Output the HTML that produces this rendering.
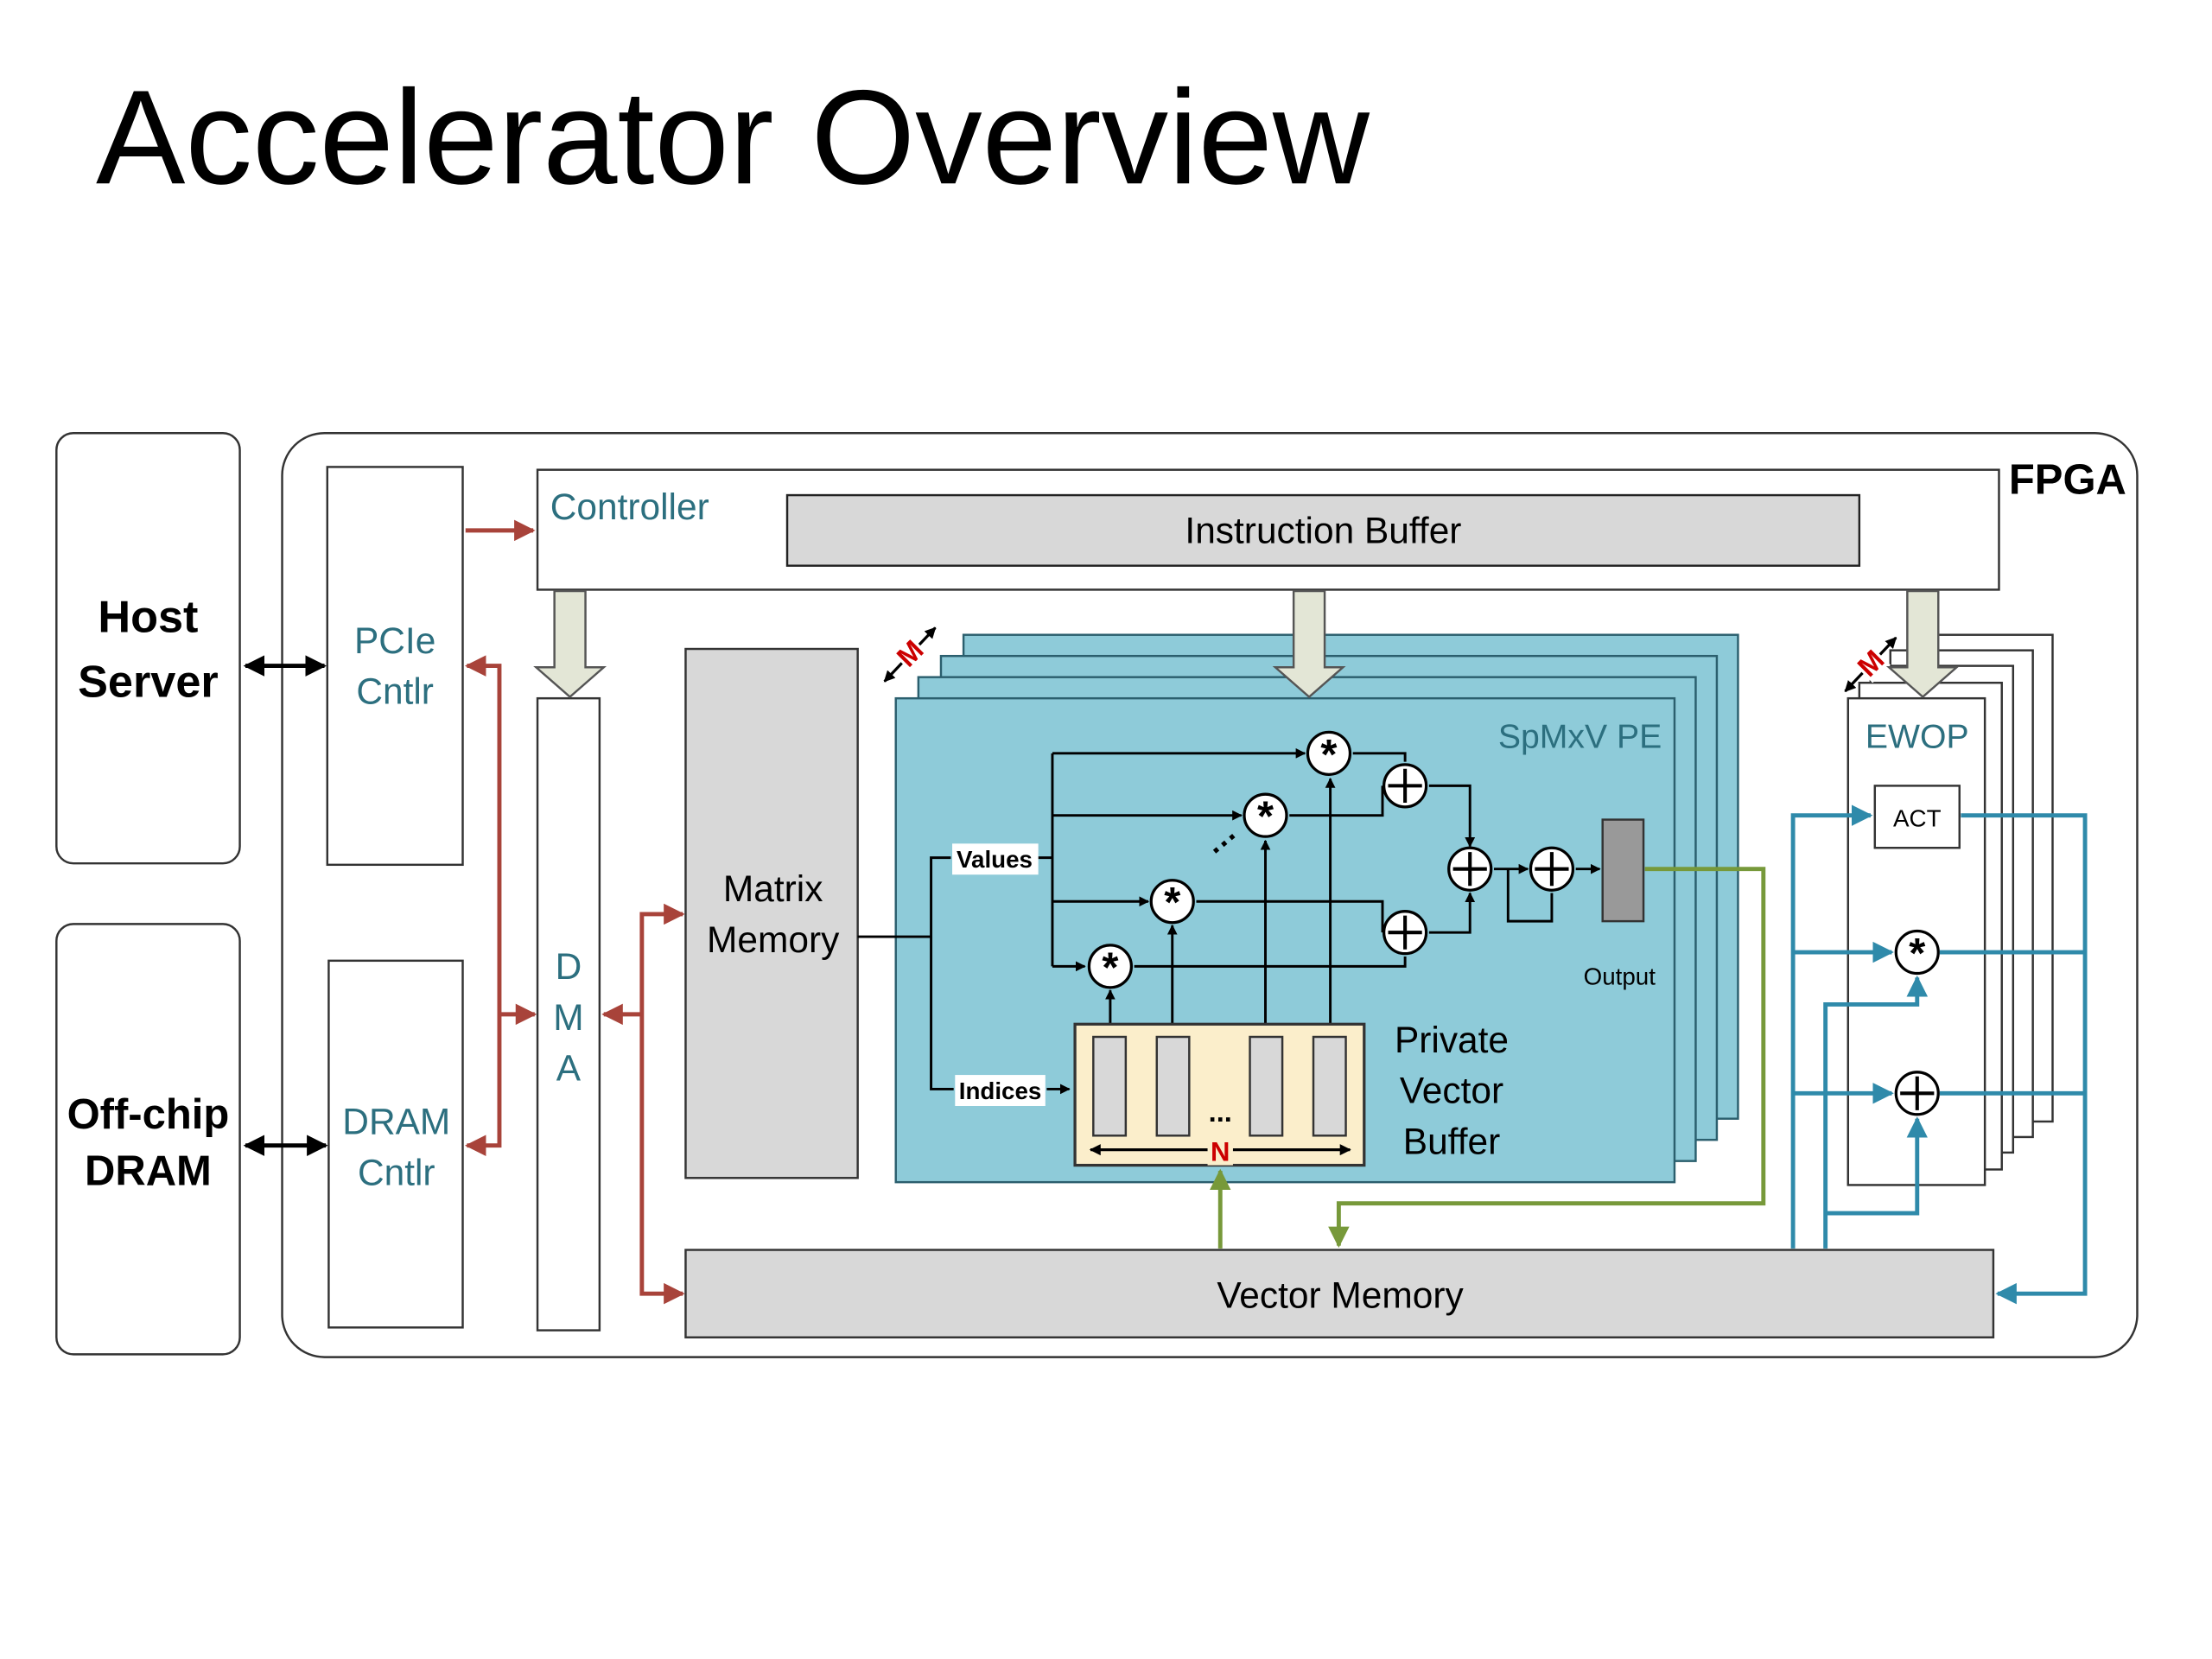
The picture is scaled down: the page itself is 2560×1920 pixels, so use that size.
<!DOCTYPE html>
<html><head><meta charset="utf-8"><style>
html,body{margin:0;padding:0;background:#fff;}
svg{display:block;}
text{font-family:"Liberation Sans","DejaVu Sans",sans-serif;}
</style></head><body>
<svg width="2560" height="1920" viewBox="0 0 1568 1176" xmlns="http://www.w3.org/2000/svg">
<defs>
<marker id="ak" viewBox="0 0 10 10" refX="9" refY="5" markerWidth="5" markerHeight="5" orient="auto-start-reverse"><path d="M0,0L10,5L0,10z" fill="#000"/></marker>
<marker id="ar" viewBox="0 0 10 10" refX="9" refY="5" markerWidth="5" markerHeight="5" orient="auto-start-reverse"><path d="M0,0L10,5L0,10z" fill="#a8433a"/></marker>
<marker id="ab" viewBox="0 0 10 10" refX="9" refY="5" markerWidth="5" markerHeight="5" orient="auto-start-reverse"><path d="M0,0L10,5L0,10z" fill="#2f8aaa"/></marker>
<marker id="ag" viewBox="0 0 10 10" refX="9" refY="5" markerWidth="5" markerHeight="5" orient="auto-start-reverse"><path d="M0,0L10,5L0,10z" fill="#77993a"/></marker>
<marker id="as" viewBox="0 0 10 10" refX="9" refY="5" markerWidth="4" markerHeight="4" orient="auto-start-reverse"><path d="M0,0L10,5L0,10z" fill="#000"/></marker>
</defs>
<text x="68" y="130" font-size="95" fill="#000">Accelerator Overview</text>

<rect x="40" y="307" width="130" height="305" rx="12" fill="#fff" stroke="#333" stroke-width="1.5"/>
<text x="105" y="448" font-size="32" font-weight="bold" text-anchor="middle">Host</text>
<text x="105" y="494" font-size="32" font-weight="bold" text-anchor="middle">Server</text>
<rect x="40" y="655" width="130" height="305" rx="12" fill="#fff" stroke="#333" stroke-width="1.5"/>
<text x="105" y="800" font-size="30" font-weight="bold" text-anchor="middle">Off-chip</text>
<text x="105" y="840" font-size="30" font-weight="bold" text-anchor="middle">DRAM</text>

<rect x="200" y="307" width="1315" height="655" rx="30" fill="#fff" stroke="#333" stroke-width="1.5"/>
<text x="1424" y="350" font-size="30" font-weight="bold">FPGA</text>

<rect x="232" y="331" width="96" height="282" fill="#fff" stroke="#333" stroke-width="1.5"/>
<text x="280" y="463" font-size="26" fill="#2c6f7f" text-anchor="middle">PCIe</text>
<text x="280" y="499" font-size="26" fill="#2c6f7f" text-anchor="middle">Cntlr</text>
<rect x="233" y="681" width="95" height="260" fill="#fff" stroke="#333" stroke-width="1.5"/>
<text x="281" y="804" font-size="26" fill="#2c6f7f" text-anchor="middle">DRAM</text>
<text x="281" y="840" font-size="26" fill="#2c6f7f" text-anchor="middle">Cntlr</text>

<line x1="174" y1="472" x2="230" y2="472" stroke="#000" stroke-width="3" marker-start="url(#ak)" marker-end="url(#ak)"/>
<line x1="174" y1="812" x2="231" y2="812" stroke="#000" stroke-width="3" marker-start="url(#ak)" marker-end="url(#ak)"/>

<rect x="381" y="333" width="1036" height="85" fill="#fff" stroke="#333" stroke-width="1.5"/>
<text x="390" y="368" font-size="26" fill="#2c6f7f">Controller</text>
<rect x="558" y="351" width="760" height="50" fill="#d8d8d8" stroke="#222" stroke-width="1.5"/>
<text x="938" y="385" font-size="26" text-anchor="middle">Instruction Buffer</text>

<line x1="330" y1="376" x2="378" y2="376" stroke="#a8433a" stroke-width="3" marker-end="url(#ar)"/>
<polyline points="331,472 354,472 354,812 331,812" fill="none" stroke="#a8433a" stroke-width="3" marker-start="url(#ar)" marker-end="url(#ar)"/>
<line x1="354" y1="719" x2="379" y2="719" stroke="#a8433a" stroke-width="3" marker-end="url(#ar)"/>
<line x1="455" y1="719" x2="428" y2="719" stroke="#a8433a" stroke-width="3" marker-end="url(#ar)"/>
<polyline points="484,648 455,648 455,917 484,917" fill="none" stroke="#a8433a" stroke-width="3" marker-start="url(#ar)" marker-end="url(#ar)"/>

<rect x="381" y="495" width="44" height="448" fill="#fff" stroke="#333" stroke-width="1.5"/>
<text x="403" y="694" font-size="26" fill="#2c6f7f" text-anchor="middle">D</text>
<text x="403" y="730" font-size="26" fill="#2c6f7f" text-anchor="middle">M</text>
<text x="403" y="766" font-size="26" fill="#2c6f7f" text-anchor="middle">A</text>

<rect x="486" y="460" width="122" height="375" fill="#d8d8d8" stroke="#333" stroke-width="1.5"/>
<text x="548" y="639" font-size="26" text-anchor="middle">Matrix</text>
<text x="548" y="675" font-size="26" text-anchor="middle">Memory</text>

<line x1="627" y1="483" x2="663" y2="445" stroke="#000" stroke-width="2" marker-start="url(#as)" marker-end="url(#as)"/>
<rect x="636" y="452" width="18" height="22" fill="#fff" transform="rotate(-45 645 463)"/>
<text x="645" y="470" font-size="20" font-weight="bold" fill="#c00" text-anchor="middle" transform="rotate(-45 645 463)">M</text>

<g fill="#8ecbd9" stroke="#2b5f6e" stroke-width="1.5">
<rect x="683" y="450" width="549" height="343"/>
<rect x="667" y="465" width="550" height="343"/>
<rect x="651" y="480" width="551" height="343"/>
<rect x="635" y="495" width="552" height="343"/>
</g>
<text x="1178" y="530" font-size="24" fill="#2c6f7f" text-anchor="end">SpMxV PE</text>

<g fill="#fff" stroke="#333" stroke-width="1.5">
<rect x="1354" y="450" width="101" height="345"/>
<rect x="1340" y="461" width="101" height="345"/>
<rect x="1326" y="472" width="101" height="345"/>
<rect x="1318" y="484" width="101" height="345"/>
<rect x="1310" y="495" width="97" height="345"/>
</g>
<line x1="1308" y1="490" x2="1344" y2="452" stroke="#000" stroke-width="2" marker-start="url(#as)" marker-end="url(#as)"/>
<rect x="1317" y="459" width="18" height="22" fill="#fff" transform="rotate(-45 1326 470)"/>
<text x="1326" y="477" font-size="20" font-weight="bold" fill="#c00" text-anchor="middle" transform="rotate(-45 1326 470)">M</text>
<text x="1359" y="530" font-size="24" fill="#2c6f7f" text-anchor="middle">EWOP</text>
<rect x="1329" y="557" width="60" height="44" fill="#fff" stroke="#333" stroke-width="1.5"/>
<text x="1359" y="586" font-size="17" text-anchor="middle">ACT</text>

<g fill="#e3e6d6" stroke="#555" stroke-width="1.5">
<path d="M393,419 H415 V473 H428 L404,494 L380,473 H393 Z"/>
<path d="M917,419 H939 V473 H952 L928,494 L904,473 H917 Z"/>
<path d="M1352,419 H1374 V473 H1387 L1363,494 L1339,473 H1352 Z"/>
</g>

<g stroke="#000" stroke-width="1.8" fill="none">
<polyline points="608,664 660,664 660,608 674,608"/>
<polyline points="660,664 660,772 676,772"/>
<line x1="736" y1="608" x2="746" y2="608"/>
<line x1="746" y1="534" x2="746" y2="685"/>
<line x1="746" y1="534" x2="925" y2="534" marker-end="url(#as)"/>
<line x1="746" y1="578" x2="880" y2="578" marker-end="url(#as)"/>
<line x1="746" y1="639" x2="814" y2="639" marker-end="url(#as)"/>
<line x1="746" y1="685" x2="769" y2="685" marker-end="url(#as)"/>
<line x1="742" y1="772" x2="758" y2="772" marker-end="url(#as)"/>
<line x1="787" y1="733" x2="787" y2="702" marker-end="url(#as)"/>
<line x1="831" y1="733" x2="831" y2="656" marker-end="url(#as)"/>
<line x1="897" y1="733" x2="897" y2="596" marker-end="url(#as)"/>
<line x1="943" y1="733" x2="943" y2="552" marker-end="url(#as)"/>
<polyline points="959,534 996,534 996,540"/>
<polyline points="914,578 980,578 980,557"/>
<polyline points="848,639 980,639 980,661"/>
<polyline points="804,685 996,685 996,678"/>
<polyline points="1013,557 1042,557 1042,600" marker-end="url(#as)"/>
<polyline points="1013,661 1042,661 1042,633" marker-end="url(#as)"/>
<line x1="1059" y1="616" x2="1083" y2="616" marker-end="url(#as)"/>
<polyline points="1100,633 1100,653 1069,653 1069,616"/>
<line x1="1117" y1="616" x2="1134" y2="616" marker-end="url(#as)"/>
</g>
<text x="860" y="612" font-size="22" font-weight="bold" transform="rotate(-40 860 605)">···</text>
<g fill="#fff" stroke="#000" stroke-width="2">
<circle cx="942" cy="534" r="15"/><circle cx="897" cy="578" r="15"/><circle cx="831" cy="639" r="15"/><circle cx="787" cy="685" r="15"/>
<circle cx="996" cy="557" r="15"/><circle cx="996" cy="661" r="15"/><circle cx="1042" cy="616" r="15"/><circle cx="1100" cy="616" r="15"/>
<circle cx="1359" cy="675" r="15"/><circle cx="1359" cy="775" r="15"/>
</g>
<g font-size="30" font-weight="bold" text-anchor="middle">
<text x="942" y="545">*</text><text x="897" y="589">*</text><text x="831" y="650">*</text><text x="787" y="696">*</text><text x="1359" y="686">*</text>
</g>
<g stroke="#000" stroke-width="2.5">
<path d="M996,545V569M984,557H1008"/><path d="M996,649V673M984,661H1008"/><path d="M1042,604V628M1030,616H1054"/><path d="M1100,604V628M1088,616H1112"/><path d="M1359,763V787M1347,775H1371"/>
</g>
<rect x="675" y="598" width="61" height="22" fill="#fff"/>
<text x="705" y="615" font-size="17" font-weight="bold" text-anchor="middle">Values</text>
<rect x="677" y="762" width="64" height="22" fill="#fff"/>
<text x="709" y="779" font-size="17" font-weight="bold" text-anchor="middle">Indices</text>

<rect x="1136" y="581" width="29" height="72" fill="#999" stroke="#333" stroke-width="1.5"/>
<text x="1148" y="698" font-size="17" text-anchor="middle">Output</text>

<rect x="762" y="726" width="205" height="100" fill="#fbeecb" stroke="#333" stroke-width="2"/>
<g fill="#d8d8d8" stroke="#333" stroke-width="1.5">
<rect x="775" y="735" width="23" height="70"/><rect x="820" y="735" width="23" height="70"/><rect x="886" y="735" width="23" height="70"/><rect x="931" y="735" width="23" height="70"/>
</g>
<text x="865" y="795" font-size="20" font-weight="bold" text-anchor="middle">...</text>
<line x1="773" y1="815" x2="957" y2="815" stroke="#000" stroke-width="2" marker-start="url(#as)" marker-end="url(#as)"/>
<rect x="856" y="806" width="18" height="20" fill="#fbeecb"/>
<text x="865" y="823" font-size="19" font-weight="bold" fill="#c00" text-anchor="middle">N</text>
<text x="1029" y="746" font-size="26" text-anchor="middle">Private</text>
<text x="1029" y="782" font-size="26" text-anchor="middle">Vector</text>
<text x="1029" y="818" font-size="26" text-anchor="middle">Buffer</text>

<rect x="486" y="886" width="927" height="62" fill="#d8d8d8" stroke="#333" stroke-width="1.5"/>
<text x="950" y="927" font-size="26" text-anchor="middle">Vector Memory</text>

<line x1="865" y1="885" x2="865" y2="830" stroke="#77993a" stroke-width="3" marker-end="url(#ag)"/>
<polyline points="1166,616 1250,616 1250,853 949,853 949,883" fill="none" stroke="#77993a" stroke-width="3" marker-end="url(#ag)"/>

<g stroke="#2f8aaa" stroke-width="3" fill="none">
<polyline points="1271,885 1271,578 1326,578" marker-end="url(#ab)"/>
<line x1="1271" y1="675" x2="1341" y2="675" marker-end="url(#ab)"/>
<line x1="1271" y1="775" x2="1341" y2="775" marker-end="url(#ab)"/>
<polyline points="1294,885 1294,712 1359,712 1359,693" marker-end="url(#ab)"/>
<polyline points="1294,860 1359,860 1359,793" marker-end="url(#ab)"/>
<polyline points="1390,578 1478,578 1478,917 1416,917" marker-end="url(#ab)"/>
<line x1="1375" y1="675" x2="1478" y2="675"/>
<line x1="1375" y1="775" x2="1478" y2="775"/>
</g>
</svg>
</body></html>
